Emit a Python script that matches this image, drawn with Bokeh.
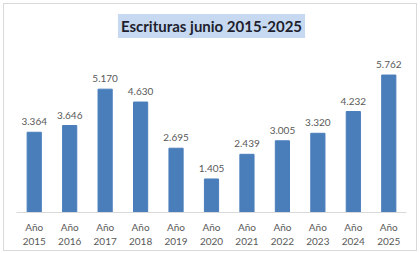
from bokeh.plotting import figure
from bokeh.models import ColumnDataSource, FactorRange, Range1d
from bokeh.core.properties import value
from bokeh.embed import file_html
from bokeh.resources import INLINE

years = ["2015", "2016", "2017", "2018", "2019", "2020", "2021", "2022", "2023", "2024", "2025"]
values = [3364, 3646, 5170, 4630, 2695, 1405, 2439, 3005, 3320, 4232, 5762]
title_text = "Escrituras junio 2015-2025"

cats = ["Año\n" + y for y in years]
labels = ["{:,}".format(v).replace(",", ".") for v in values]

src = ColumnDataSource(dict(x=cats, top=values, lab=labels))

FONT = "Lato"
W, H = 414, 248
p = figure(width=W, height=H, x_range=FactorRange(*cats, range_padding=0),
           y_range=Range1d(0, 7000), output_backend="svg", toolbar_location=None,
           min_border_left=12, min_border_right=12, min_border_top=6, min_border_bottom=40)
p.styles = {"margin-left": "3px", "margin-top": "3px", "border": "1px solid #d9d9d9"}
p.x_range.factor_padding = 0
p.vbar(x="x", top="top", width=0.4, source=src, color="#4a7ebb")
p.text(x="x", y="top", text="lab", source=src, text_align="center", text_baseline="bottom",
       y_offset=-7, text_font=value(FONT), text_font_size="10px", text_color="#595959")

p.xgrid.visible = False
p.ygrid.visible = False
p.yaxis.visible = False
p.outline_line_color = None
ax = p.xaxis[0]
ax.axis_line_color = "#d9d9d9"
ax.major_tick_line_color = None
ax.minor_tick_line_color = None
ax.major_label_text_font = FONT
ax.major_label_text_font_size = "10px"
ax.major_label_text_color = "#595959"
ax.major_label_standoff = 2

p.title.text = title_text
p.title.align = "center"
p.title.text_font = FONT
p.title.text_font_size = "15px"
p.title.text_font_style = "bold"
p.title.text_color = "#1f1f2e"
p.title.background_fill_color = "#c6d9f1"
p.title.padding = 3
p.title.standoff = 15
p.title.offset = 0

open("out.html", "w").write(file_html(p, INLINE))
